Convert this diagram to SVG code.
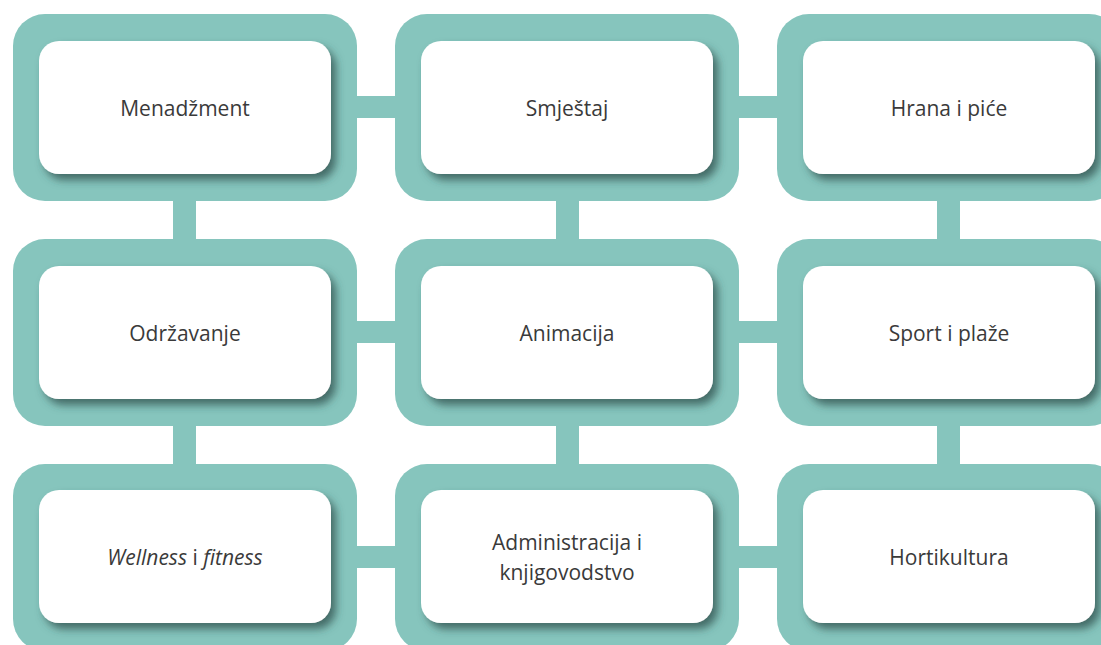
<svg xmlns="http://www.w3.org/2000/svg" width="1101" height="645" viewBox="0 0 1101 645">
<defs>
<style>
.outer{fill:#86c5bd}
.bar{fill:#86c5bd}
.inner{fill:#ffffff;filter:url(#sh)}
.lbl{font-family:"Open Sans","Noto Sans","Liberation Sans",sans-serif;font-size:21px;fill:#3a3a3a;text-anchor:middle}
</style>
<filter id="sh" x="-10%" y="-15%" width="125%" height="140%">
<feDropShadow dx="5" dy="6" stdDeviation="4" flood-color="#2e4e4a" flood-opacity="0.75"/>
</filter>
</defs>
<rect width="1101" height="645" fill="#ffffff"/>
<g id="connectors">
<rect class="bar" x="350" y="96" width="52" height="22"/>
<rect class="bar" x="732" y="96" width="52" height="22"/>
<rect class="bar" x="350" y="321" width="52" height="22"/>
<rect class="bar" x="732" y="321" width="52" height="22"/>
<rect class="bar" x="350" y="546" width="52" height="22"/>
<rect class="bar" x="732" y="546" width="52" height="22"/>
<rect class="bar" x="173" y="195" width="23" height="50"/>
<rect class="bar" x="556" y="195" width="23" height="50"/>
<rect class="bar" x="937" y="195" width="23" height="50"/>
<rect class="bar" x="173" y="420" width="23" height="50"/>
<rect class="bar" x="556" y="420" width="23" height="50"/>
<rect class="bar" x="937" y="420" width="23" height="50"/>
</g>
<g id="n1"><rect class="outer" x="13" y="14" width="344" height="187" rx="32"/><rect class="inner" x="39" y="41" width="292" height="133" rx="20"/><text class="lbl" x="185" y="116">Menadžment</text></g>
<g id="n2"><rect class="outer" x="395" y="14" width="344" height="187" rx="32"/><rect class="inner" x="421" y="41" width="292" height="133" rx="20"/><text class="lbl" x="567" y="116">Smještaj</text></g>
<g id="n3"><rect class="outer" x="777" y="14" width="344" height="187" rx="32"/><rect class="inner" x="803" y="41" width="292" height="133" rx="20"/><text class="lbl" x="949" y="116">Hrana i piće</text></g>
<g id="n4"><rect class="outer" x="13" y="239" width="344" height="187" rx="32"/><rect class="inner" x="39" y="266" width="292" height="133" rx="20"/><text class="lbl" x="185" y="341">Održavanje</text></g>
<g id="n5"><rect class="outer" x="395" y="239" width="344" height="187" rx="32"/><rect class="inner" x="421" y="266" width="292" height="133" rx="20"/><text class="lbl" x="567" y="341">Animacija</text></g>
<g id="n6"><rect class="outer" x="777" y="239" width="344" height="187" rx="32"/><rect class="inner" x="803" y="266" width="292" height="133" rx="20"/><text class="lbl" x="949" y="341">Sport i plaže</text></g>
<g id="n7"><rect class="outer" x="13" y="464" width="344" height="187" rx="32"/><rect class="inner" x="39" y="490" width="292" height="133" rx="20"/><text class="lbl" x="185" y="565"><tspan font-style="italic">Wellness</tspan> i <tspan font-style="italic">fitness</tspan></text></g>
<g id="n8"><rect class="outer" x="395" y="464" width="344" height="187" rx="32"/><rect class="inner" x="421" y="490" width="292" height="133" rx="20"/><text class="lbl" x="567" y="550">Administracija i</text><text class="lbl" x="567" y="580">knjigovodstvo</text></g>
<g id="n9"><rect class="outer" x="777" y="464" width="344" height="187" rx="32"/><rect class="inner" x="803" y="490" width="292" height="133" rx="20"/><text class="lbl" x="949" y="565">Hortikultura</text></g>
</svg>
